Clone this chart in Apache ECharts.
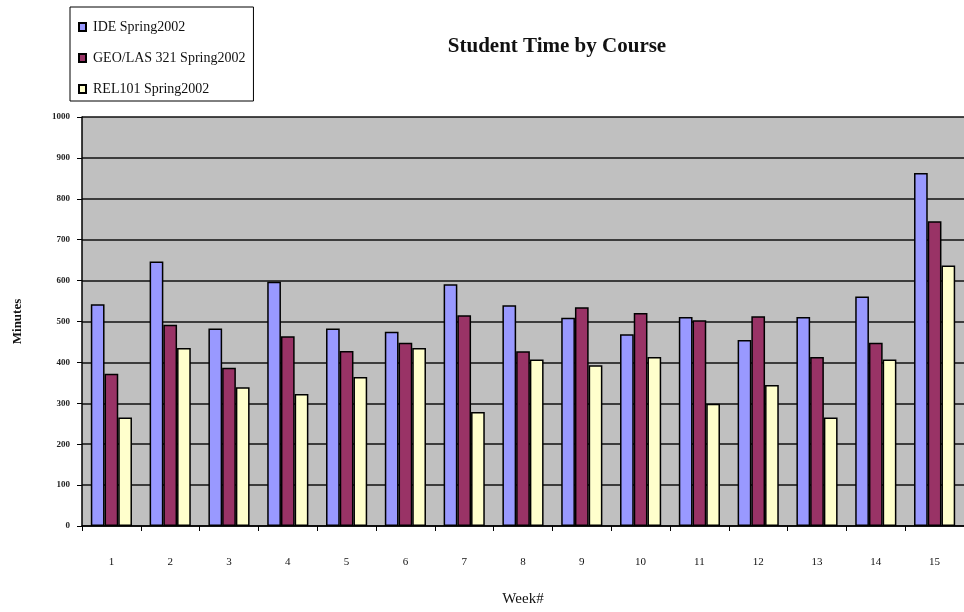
<!DOCTYPE html>
<html>
<head>
<meta charset="utf-8">
<title>Student Time by Course</title>
<script src="https://cdn.jsdelivr.net/npm/echarts@6/dist/echarts.min.js"></script>
<style>
  html, body { margin: 0; padding: 0; background: #ffffff; }
  #chart { width: 964px; height: 612px; }
</style>
</head>
<body>
<div id="chart"></div>
<script>
// Weekly minutes spent per course
const weeks = ['1', '2', '3', '4', '5', '6', '7', '8', '9', '10', '11', '12', '13', '14', '15'];
const ideSpring2002 = [542, 647, 483, 597, 483, 475, 591, 540, 509, 469, 511, 455, 511, 561, 863];
const geoLas321Spring2002 = [372, 492, 387, 464, 428, 448, 515, 427, 535, 521, 503, 513, 413, 448, 745];
const rel101Spring2002 = [265, 435, 339, 323, 364, 435, 279, 407, 393, 413, 299, 345, 265, 407, 637];
const seriesNames = ['IDE Spring2002', 'GEO/LAS 321 Spring2002', 'REL101 Spring2002'];
const seriesColors = ['#9999FF', '#993366', '#FFFFCC'];

const serif = '"Liberation Serif", "DejaVu Serif", serif';

const chart = echarts.init(document.getElementById('chart'));

function barSeries(name, values, color) {
  return {
    name: name,
    type: 'bar',
    data: values,
    barGap: '0%',
    barCategoryGap: '30%',
    itemStyle: { color: color, borderColor: '#000000', borderWidth: 1.5 },
    emphasis: { disabled: true },
    animation: false
  };
}

chart.setOption({
  backgroundColor: '#ffffff',
  animation: false,
  title: {
    text: 'Student Time by Course',
    left: 552,
    top: 31,
    textAlign: 'center',
    textStyle: { fontFamily: serif, fontWeight: 'bold', fontSize: 21, color: '#111111' }
  },
  legend: {
    orient: 'vertical',
    left: 70,
    top: 7,
    padding: [13, 8, 5, 8],
    itemGap: 17,
    itemWidth: 7,
    itemHeight: 8,
    icon: 'rect',
    borderColor: '#000000',
    borderWidth: 1,
    backgroundColor: '#ffffff',
    textStyle: { fontFamily: serif, fontSize: 14, color: '#111111', padding: [0, 0, 0, 2] },
    data: seriesNames
  },
  grid: {
    left: 82,
    right: -3,
    top: 117,
    bottom: 78,
    show: true,
    backgroundColor: '#C0C0C0',
    borderWidth: 0
  },
  xAxis: {
    type: 'category',
    data: weeks,
    name: 'Week#',
    nameLocation: 'middle',
    nameGap: 66,
    nameTextStyle: { fontFamily: serif, fontSize: 15, color: '#111111' },
    axisLine: { lineStyle: { color: '#000000', width: 1.5 } },
    axisTick: { show: true, length: 5, lineStyle: { color: '#000000' } },
    axisLabel: { fontFamily: serif, fontSize: 11, color: '#111111', margin: 31 }
  },
  yAxis: {
    type: 'value',
    min: 0,
    max: 1000,
    interval: 100,
    name: 'Minutes',
    nameLocation: 'middle',
    nameGap: 58,
    nameTextStyle: { fontFamily: serif, fontWeight: 'bold', fontSize: 13, color: '#111111' },
    axisLine: { show: true, lineStyle: { color: '#000000', width: 1.5 } },
    axisTick: { show: true, length: 5, lineStyle: { color: '#000000' } },
    axisLabel: {
      fontFamily: serif, fontWeight: 'bold', fontSize: 9, color: '#222222', margin: 12,
      formatter: function (v) { return String(v); }
    },
    splitLine: { show: true, lineStyle: { color: '#111111', width: 1.5 } }
  },
  series: [
    barSeries(seriesNames[0], ideSpring2002, seriesColors[0]),
    barSeries(seriesNames[1], geoLas321Spring2002, seriesColors[1]),
    barSeries(seriesNames[2], rel101Spring2002, seriesColors[2])
  ]
});
</script>
</body>
</html>
